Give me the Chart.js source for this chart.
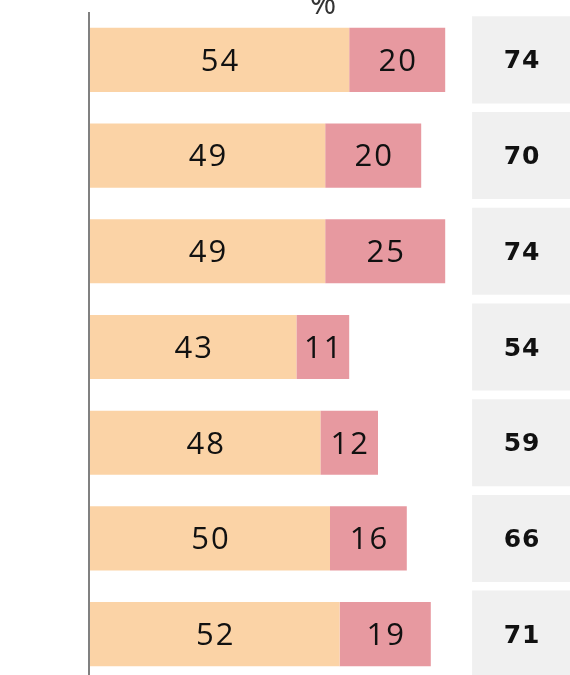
<!DOCTYPE html>
<html>
<head>
    <meta charset="utf-8">
    <script src="https://cdn.jsdelivr.net/npm/chart.js"></script>
    <title>Anteile</title>
    <style>
        html, body { margin: 0; padding: 0; background: #fff; overflow: hidden; }
        #wrap { width: 570px; height: 690px; }
    </style>
</head>
<body>
    <div id="wrap">
        <canvas id="chartBars" width="570" height="690"></canvas>
    </div>

    <script type="text/javascript">
        // one row per group, top to bottom
        const categorias = ['A', 'B', 'C', 'D', 'E', 'F', 'G'];
        const parteUno = [54, 49, 49, 43, 48, 50, 52];
        const parteDos = [20, 20, 25, 11, 12, 16, 19];
        const totales = [74, 70, 74, 54, 59, 66, 71];
        const unidad = '%';

        // grey column that holds the totals, in axis units
        const cajaDesde = 79.6;
        const cajaHasta = 100;

        const colorUno = '#FBD3A6';
        const colorDos = '#E799A0';
        const colorCaja = '#F0F0F0';

        const etiquetas = {
            id: 'etiquetas',
            afterDatasetsDraw(chart) {
                const ctx = chart.ctx;
                const area = chart.chartArea;
                ctx.save();

                // left axis line
                ctx.strokeStyle = '#808080';
                ctx.lineWidth = 2;
                ctx.beginPath();
                ctx.moveTo(area.left - 1, area.top);
                ctx.lineTo(area.left - 1, chart.height);
                ctx.stroke();

                // header unit
                ctx.fillStyle = '#333';
                ctx.font = '32px "Open Sans"';
                ctx.textAlign = 'center';
                ctx.textBaseline = 'alphabetic';
                ctx.fillText(unidad, 323, 14);

                // values inside the segments
                ctx.fillStyle = '#111';
                ctx.font = '31px "Open Sans"';
                ctx.letterSpacing = '2px';
                ctx.textBaseline = 'middle';
                [0, 1].forEach(i => {
                    const meta = chart.getDatasetMeta(i);
                    const valores = i === 0 ? parteUno : parteDos;
                    meta.data.forEach((bar, j) => {
                        const cx = (bar.x + bar.base) / 2;
                        ctx.fillText(String(valores[j]), cx + 1, bar.y + 2);
                    });
                });

                // totals in the grey boxes
                ctx.font = 'bold 25px "DejaVu Sans"';
                ctx.letterSpacing = '1px';
                chart.getDatasetMeta(2).data.forEach((box, j) => {
                    const cx = (box.x + box.base) / 2;
                    ctx.fillText(String(totales[j]), cx + 1, box.y + 2);
                });
                ctx.restore();
            }
        };

        document.addEventListener('DOMContentLoaded', () => {
            const ctx = document.getElementById('chartBars').getContext('2d');

            new Chart(ctx, {
                type: 'bar',
                data: {
                    labels: categorias,
                    datasets: [
                        {
                            data: parteUno.map(v => [0, v]),
                            backgroundColor: colorUno,
                            barPercentage: 0.67,
                            categoryPercentage: 1,
                            grouped: false,
                            order: 1
                        },
                        {
                            data: parteDos.map((v, i) => [parteUno[i], parteUno[i] + v]),
                            backgroundColor: colorDos,
                            barPercentage: 0.67,
                            categoryPercentage: 1,
                            grouped: false,
                            order: 1
                        },
                        {
                            data: totales.map(() => [cajaDesde, cajaHasta]),
                            backgroundColor: colorCaja,
                            barPercentage: 0.91,
                            categoryPercentage: 1,
                            grouped: false,
                            order: 2
                        }
                    ]
                },
                options: {
                    indexAxis: 'y',
                    responsive: false,
                    animation: false,
                    layout: {
                        padding: { left: 90, top: 12, right: 0, bottom: 8 }
                    },
                    plugins: {
                        legend: { display: false },
                        tooltip: { enabled: false }
                    },
                    scales: {
                        x: {
                            display: false,
                            min: 0,
                            max: 100
                        },
                        y: {
                            display: false
                        }
                    }
                },
                plugins: [etiquetas]
            });
        });
    </script>
</body>
</html>
